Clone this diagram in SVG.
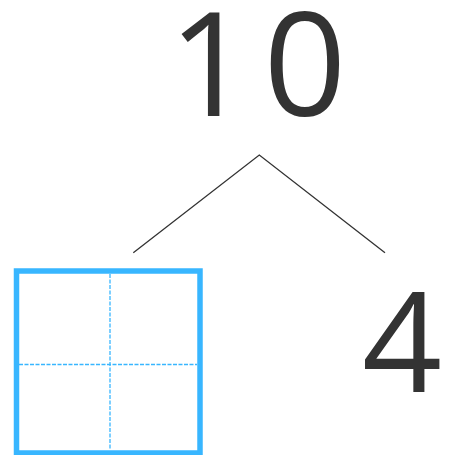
<svg xmlns="http://www.w3.org/2000/svg" width="449" height="455" viewBox="0 0 449 455">
<style>
.num{font-family:"Open Sans","DejaVu Sans",sans-serif;fill:#333333;text-anchor:middle}
.conn{stroke:#333333;stroke-width:1.3;fill:none}
.box{fill:#ffffff;stroke:#38B6FF;stroke-width:5.5}
.guide{stroke:#38B6FF;stroke-width:1.3;stroke-dasharray:4 1.5;fill:none}
</style>
<rect width="449" height="455" fill="#ffffff"/>
<g id="top-number">
<text class="num" y="116" font-size="145"><tspan x="210">1</tspan><tspan x="305">0</tspan></text>
</g>
<g id="connectors">
<path class="conn" d="M133.3 252.7 L259.3 155 L385 252.7"/>
</g>
<g id="left-box">
<rect class="box" x="16.5" y="271" width="183.5" height="182"/>
<line class="guide" x1="110" y1="274" x2="110" y2="450"/>
<line class="guide" x1="19" y1="364.5" x2="197" y2="364.5"/>
</g>
<g id="right-number">
<text class="num" x="402" y="392" font-size="140">4</text>
</g>
</svg>
